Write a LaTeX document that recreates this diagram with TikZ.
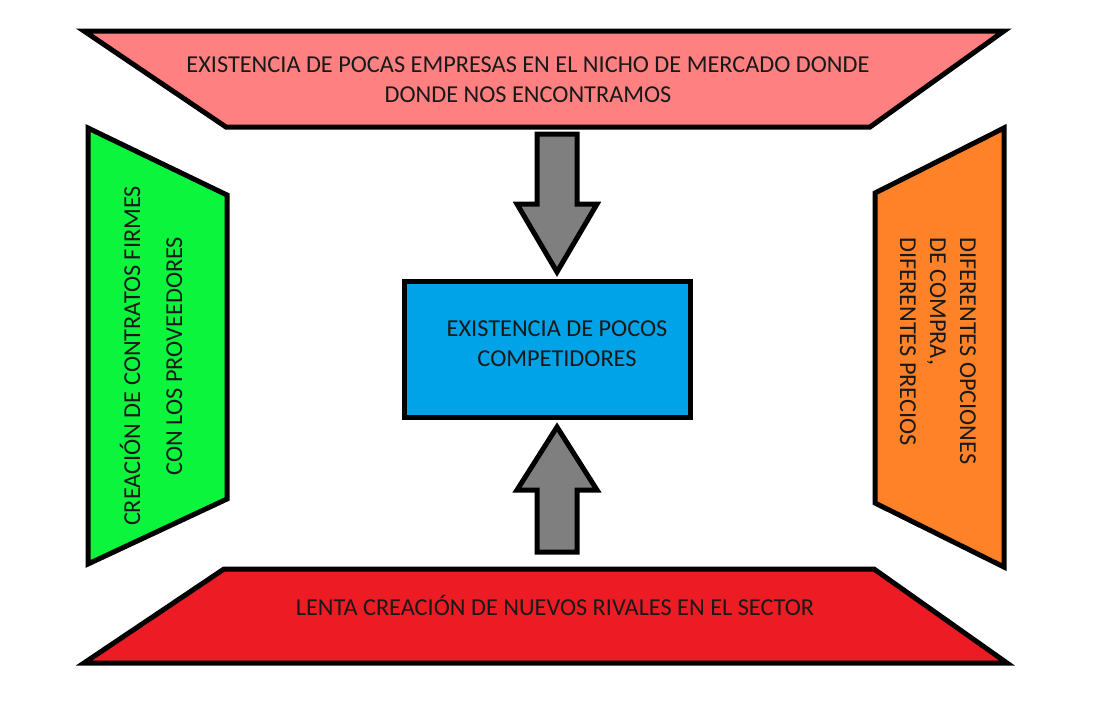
\documentclass[tikz,border=0pt]{standalone}
\usepackage{fontspec}
\setmainfont{Carlito}
\definecolor{cpink}{RGB}{255,128,128}
\definecolor{cgreen}{RGB}{10,245,60}
\definecolor{corange}{RGB}{255,130,40}
\definecolor{cred}{RGB}{237,28,36}
\definecolor{cblue}{RGB}{0,162,232}
\definecolor{cgray}{RGB}{127,127,127}
\begin{document}
\begin{tikzpicture}[x=1pt,y=-1pt,
  shapeline/.style={draw=black,line width=5pt,line join=miter,miter limit=4},
  lbl/.style={font=\fontsize{24.3}{30}\selectfont,text=black!90,align=center,inner sep=0pt}]
\useasboundingbox (0,0) rectangle (1097,705);
% top trapezoid
\draw[shapeline,fill=cpink] (84,31) -- (1004,31) -- (870,127) -- (226,127) -- cycle;
% left trapezoid
\draw[shapeline,fill=cgreen] (88,128) -- (227,195) -- (227,499) -- (88,564) -- cycle;
% right trapezoid
\draw[shapeline,fill=corange] (1004,128) -- (1004,567) -- (875,503) -- (875,193) -- cycle;
% bottom trapezoid
\draw[shapeline,fill=cred] (224,569) -- (874,569) -- (1007,663) -- (84,663) -- cycle;
% center box
\draw[shapeline,fill=cblue] (404,281) rectangle (690,417);
% down arrow
\draw[shapeline,fill=cgray] (537,134) -- (577,134) -- (577,204) -- (597,204) -- (557,272) -- (517,204) -- (537,204) -- cycle;
% up arrow
\draw[shapeline,fill=cgray] (557,427) -- (597,490) -- (577,490) -- (577,552) -- (537,552) -- (537,490) -- (517,490) -- cycle;
% texts
\node[lbl] (top) at (528,80) {EXISTENCIA DE POCAS EMPRESAS EN EL NICHO DE MERCADO DONDE\\DONDE NOS ENCONTRAMOS};
\node[lbl] (center) at (557,344) {EXISTENCIA DE POCOS\\COMPETIDORES};
\node[lbl] (bottom) at (555,605) {LENTA CREACIÓN DE NUEVOS RIVALES EN EL SECTOR};
\node[lbl,rotate=90] (left) at (151,356) {CREACIÓN DE CONTRATOS FIRMES\\[12pt]CON LOS PROVEEDORES};
\node[lbl,rotate=-90,anchor=west,align=left] (right) at (938,237) {DIFERENTES OPCIONES\\DE COMPRA,\\DIFERENTES PRECIOS};
\end{tikzpicture}
\end{document}
